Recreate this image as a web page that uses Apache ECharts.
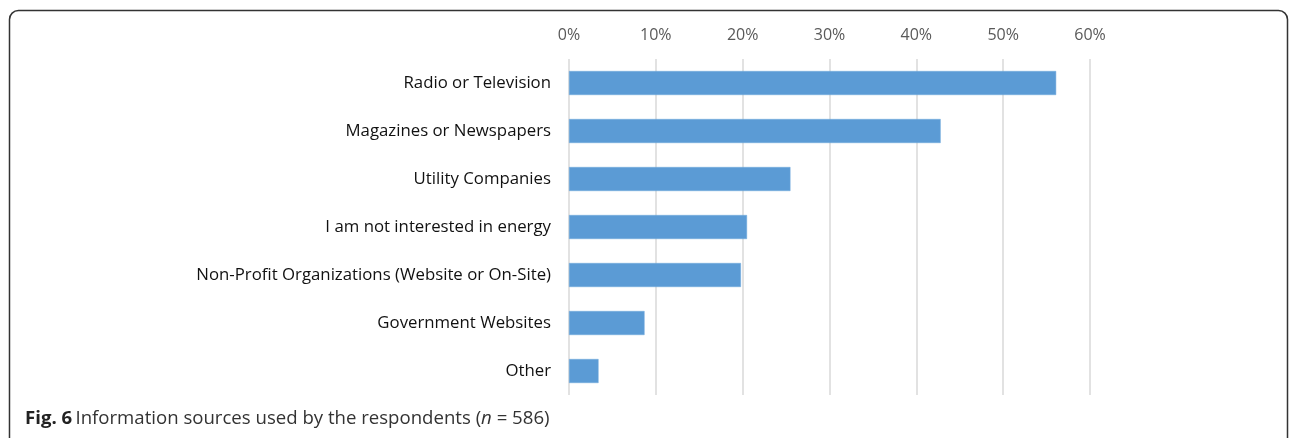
<!DOCTYPE html>
<html>
<head>
<meta charset="utf-8">
<script src="https://cdn.jsdelivr.net/npm/echarts@6/dist/echarts.min.js"></script>
<style>
html,body{margin:0;padding:0;background:#fff;}
#chart{width:1290px;height:438px;}
</style>
</head>
<body>
<div id="chart"></div>
<script>
const categories = [
  "Radio or Television",
  "Magazines or Newspapers",
  "Utility Companies",
  "I am not interested in energy",
  "Non-Profit Organizations (Website or On-Site)",
  "Government Websites",
  "Other"
];
const values = [56.1, 42.8, 25.5, 20.5, 19.8, 8.7, 3.4];
const tickMin = 0, tickMax = 60, tickStep = 10;

const chart = echarts.init(document.getElementById('chart'), null, {renderer: 'canvas'});
chart.setOption({
  animation: false,
  backgroundColor: '#ffffff',
  grid: {left: 569, right: 200, top: 59, bottom: 43, containLabel: false},
  xAxis: {
    type: 'value', position: 'top',
    min: tickMin, max: tickMax, interval: tickStep,
    axisLine: {show: false}, axisTick: {show: false},
    axisLabel: {formatter: '{value}%', color: '#595959', fontFamily: 'Open Sans', fontSize: 16, margin: 16},
    splitLine: {show: true, lineStyle: {color: '#d9d9d9', width: 1.5}}
  },
  yAxis: {
    type: 'category', data: categories, inverse: true,
    axisLine: {show: false}, axisTick: {show: false},
    axisLabel: {color: '#111', fontFamily: 'Open Sans', fontSize: 16.8, margin: 18}
  },
  series: [{
    type: 'bar', data: values, barCategoryGap: '50%',
    itemStyle: {color: '#5b9bd5', borderColor: '#6fa8dc', borderWidth: 0.5}
  }],
  graphic: [
    {type: 'rect', shape: {x: 9.5, y: 10.5, width: 1278, height: 445, r: 9},
     style: {fill: null, stroke: '#333', lineWidth: 1.5}, silent: true},
    {type: 'text', left: 25, top: 409,
     style: {
       text: '{b|Fig. 6} {n|Information sources used by the respondents (}{i|n}{n| = 586)}',
       rich: {
         b: {fontFamily: 'Open Sans', fontSize: 18.6, fontWeight: 'bold', fill: '#222'},
         n: {fontFamily: 'Open Sans', fontSize: 18.6, fill: '#333'},
         i: {fontFamily: 'Open Sans', fontSize: 18.6, fontStyle: 'italic', fill: '#333'}
       }
     }}
  ]
});
</script>
</body>
</html>
